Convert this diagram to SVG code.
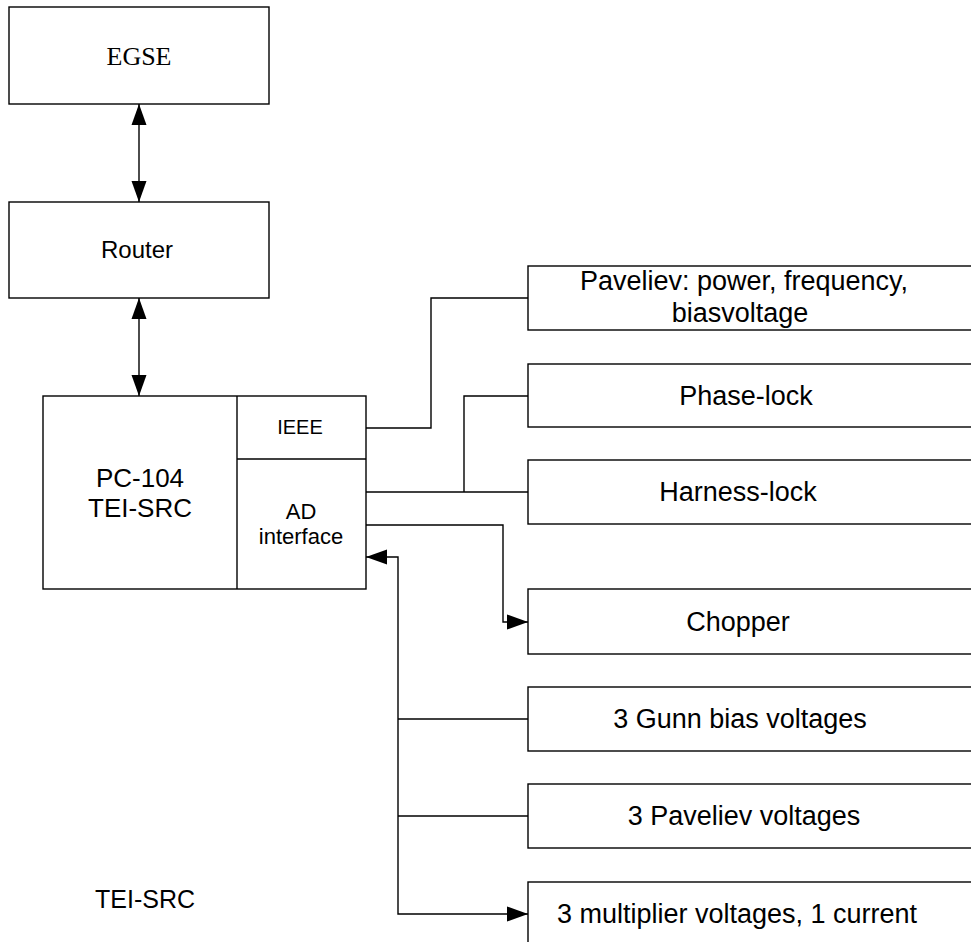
<svg xmlns="http://www.w3.org/2000/svg" width="971" height="942" viewBox="0 0 971 942">
  <style>
    .box { fill: #fff; stroke: #000; stroke-width: 1.4; }
    .wire { fill: none; stroke: #000; stroke-width: 1.4; }
    .sans { font-family: "Liberation Sans", Arial, sans-serif; fill: #000; text-anchor: middle; }
    .serif { font-family: "Liberation Serif", "Times New Roman", serif; fill: #000; text-anchor: middle; }
    .lbl { font-size: 26px; }
    .inst { font-size: 27px; }
  </style>
  <defs>
    <marker id="arrow" markerUnits="userSpaceOnUse" markerWidth="22" markerHeight="16" refX="21" refY="8" orient="auto-start-reverse">
      <path d="M0,0.5 L21,8 L0,15.5 Z" fill="#000"/>
    </marker>
  </defs>

  <rect width="971" height="942" fill="#fff"/>

  <!-- connectors -->
  <g id="connectors">
    <line class="wire" x1="139" y1="104" x2="139" y2="202" marker-start="url(#arrow)" marker-end="url(#arrow)"/>
    <line class="wire" x1="139" y1="298" x2="139" y2="396" marker-start="url(#arrow)" marker-end="url(#arrow)"/>
    <polyline class="wire" points="366,428 431,428 431,298 528,298"/>
    <polyline class="wire" points="366,492 528,492"/>
    <polyline class="wire" points="464,492 464,396 528,396"/>
    <polyline class="wire" points="366,525 503,525 503,622 528,622" marker-end="url(#arrow)"/>
    <polyline class="wire" points="366,557 398,557 398,914 528,914" marker-start="url(#arrow)" marker-end="url(#arrow)"/>
    <line class="wire" x1="398" y1="719" x2="528" y2="719"/>
    <line class="wire" x1="398" y1="816" x2="528" y2="816"/>
  </g>

  <!-- EGSE -->
  <g id="egse">
    <rect class="box" x="9" y="7" width="260" height="97"/>
    <text class="serif" x="139" y="65" font-size="26">EGSE</text>
  </g>

  <!-- Router -->
  <g id="router">
    <rect class="box" x="9" y="202" width="260" height="96"/>
    <text class="sans" x="137" y="258" font-size="24">Router</text>
  </g>

  <!-- PC-104 computer with its interface cards -->
  <g id="pc104">
    <rect class="box" x="43" y="396" width="323" height="193"/>
    <line class="wire" x1="237" y1="396" x2="237" y2="589"/>
    <line class="wire" x1="237" y1="459" x2="366" y2="459"/>
    <text class="sans lbl" x="140" y="487">PC-104</text>
    <text class="sans lbl" x="140" y="517">TEI-SRC</text>
  </g>
  <g id="ieee">
    <text class="sans" x="300" y="434" font-size="20">IEEE</text>
  </g>
  <g id="ad-interface">
    <text class="sans" x="301" y="519" font-size="22">AD</text>
    <text class="sans" x="301" y="544" font-size="22">interface</text>
  </g>

  <!-- instruments -->
  <g id="paveliev">
    <rect class="box" x="528" y="266" width="460" height="64"/>
    <text class="sans inst" x="744" y="290">Paveliev: power, frequency,</text>
    <text class="sans inst" x="740" y="322">biasvoltage</text>
  </g>
  <g id="phase-lock">
    <rect class="box" x="528" y="364" width="460" height="63"/>
    <text class="sans inst" x="746" y="405">Phase-lock</text>
  </g>
  <g id="harness-lock">
    <rect class="box" x="528" y="460" width="460" height="64"/>
    <text class="sans inst" x="738" y="501">Harness-lock</text>
  </g>
  <g id="chopper">
    <rect class="box" x="528" y="589" width="460" height="65"/>
    <text class="sans inst" x="738" y="631">Chopper</text>
  </g>
  <g id="gunn">
    <rect class="box" x="528" y="687" width="460" height="64"/>
    <text class="sans inst" x="740" y="728">3 Gunn bias voltages</text>
  </g>
  <g id="paveliev-voltages">
    <rect class="box" x="528" y="784" width="460" height="64"/>
    <text class="sans inst" x="744" y="825">3 Paveliev voltages</text>
  </g>
  <g id="multiplier">
    <rect class="box" x="528" y="882" width="460" height="64"/>
    <text class="sans inst" x="737" y="923">3 multiplier voltages, 1 current</text>
  </g>

  <!-- caption -->
  <g id="caption">
    <text class="sans" x="145" y="908" font-size="25">TEI-SRC</text>
  </g>
</svg>
